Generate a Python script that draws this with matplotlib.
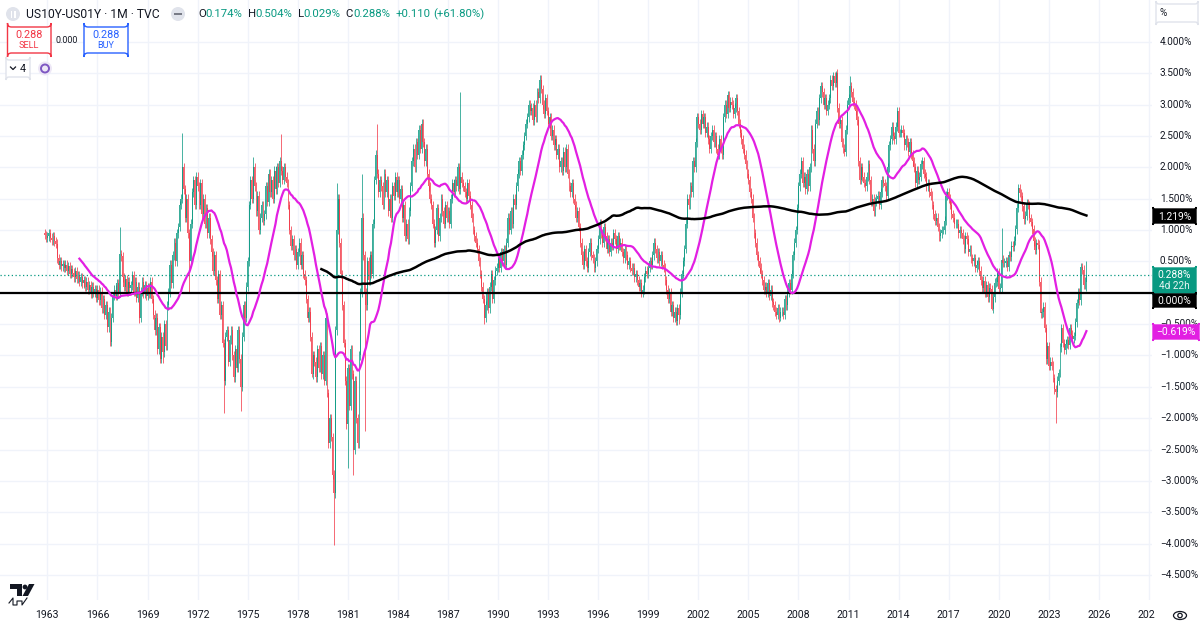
import matplotlib
matplotlib.use("Agg")
import numpy as np
import pandas as pd
import matplotlib.pyplot as plt
from matplotlib.patches import FancyBboxPatch, Rectangle, Circle, Ellipse, Polygon
from matplotlib.lines import Line2D
from matplotlib.transforms import Affine2D, blended_transform_factory

plt.rcParams['font.family'] = ['Roboto', 'DejaVu Sans']

# ---------------- data: monthly closes of US10Y-US01Y (%), from Nov 1962 ----------------
start_year, start_month = 1962, 11
first_open = 0.95

closes_1960s = [
    0.92, 0.88,
    0.90, 0.95, 0.88, 0.84, 0.90, 0.82, 0.78, 0.55, 0.45, 0.50, 0.42, 0.46,
    0.40, 0.45, 0.35, 0.42, 0.30, 0.38, 0.32, 0.25, 0.34, 0.22, 0.28, 0.18,
    0.25, 0.15, 0.20, 0.10, 0.18, 0.05, 0.12, -0.02, 0.10, 0.00, 0.06, -0.08,
    0.05, -0.12, 0.02, -0.25, -0.10, -0.35, -0.20, -0.55, -0.30, -0.78, -0.40, -0.05,
    0.05, -0.05, 0.15, 0.00, 0.62, 0.58, 0.25, 0.10, 0.22, 0.02, 0.18, 0.08,
    0.12, 0.28, 0.02, 0.18, -0.08, 0.10, -0.40, 0.02, 0.18, -0.02, 0.12, -0.05,
    0.08, -0.02, 0.18, -0.10, -0.35, -0.60, -0.40, -0.90, -0.55, -1.05, -0.70, -0.95,
]
closes_1970s = [
    -0.50, -0.85, -0.20, 0.00, 0.45, 0.15, 0.60, 0.80, 0.50, 0.95, 1.05, 1.40,
    1.50, 2.00, 1.65, 1.20, 1.50, 0.95, 0.50, 1.10, 1.60, 1.80, 1.40, 1.85,
    1.70, 1.40, 1.75, 1.25, 1.50, 1.10, 1.35, 0.95, 1.20, 0.85, 0.65, 0.35,
    0.60, 0.20, -0.10, 0.30, -0.35, -0.20, -0.80, -1.40, -0.70, -0.60, -1.10, -0.75,
    -0.60, -1.00, -1.35, -0.90, -1.20, -0.60, -1.05, -1.50, -0.70, -0.20, -0.40, 0.10,
    0.50, 1.40, 1.80, 1.50, 2.00, 1.70, 1.30, 1.55, 1.00, 1.20, 1.40, 1.15,
    1.25, 1.70, 1.45, 1.90, 1.60, 1.80, 1.50, 1.95, 1.65, 2.00, 1.75, 2.10,
    1.95, 1.80, 2.00, 1.85, 1.75, 1.40, 1.00, 0.75, 0.85, 0.60, 0.70, 0.45,
    0.65, 0.80, 0.45, 0.60, 0.30, 0.20, -0.10, -0.40, -0.30, -0.70, -1.30, -1.00,
    -1.10, -1.35, -0.90, -1.20, -0.85, -1.30, -1.00, -1.40, -0.40, -1.60, -2.40, -2.00,
]
closes_1980s = [
    -2.30, -2.90, -3.20, -0.60, 1.00, 1.50, 0.80, 0.30, -0.20, -0.80, -1.40, -2.10,
    -1.20, -1.80, -0.90, -1.30, -2.50, -1.40, -2.00, -2.40, -1.00, 0.00, 1.20, 0.60,
    0.00, -0.20, 0.50, 0.20, 0.60, 0.30, 1.10, 1.80, 2.20, 1.90, 1.60, 1.80,
    1.70, 1.40, 1.90, 1.60, 1.80, 1.30, 1.50, 1.20, 1.70, 1.55, 1.85, 1.60,
    1.80, 1.50, 1.65, 1.20, 1.40, 0.90, 1.10, 0.85, 1.30, 1.70, 2.10, 2.30,
    2.00, 2.40, 2.20, 2.60, 2.30, 2.70, 2.40, 2.10, 2.30, 1.90, 1.70, 1.50,
    1.40, 1.10, 0.80, 1.00, 1.35, 0.90, 1.20, 1.50, 1.30, 1.10, 1.40, 1.20,
    1.30, 1.10, 1.50, 1.75, 1.60, 1.80, 1.70, 2.00, 1.65, 1.85, 1.75, 1.70,
    1.60, 1.50, 1.75, 1.55, 1.40, 1.20, 1.00, 0.90, 0.80, 0.70, 0.50, 0.30,
    0.10, -0.10, -0.40, -0.20, 0.00, -0.25, 0.10, 0.30, -0.10, 0.20, 0.35, 0.40,
]
closes_1990s = [
    0.55, 0.40, 0.65, 0.50, 0.70, 0.45, 0.80, 1.20, 1.00, 1.30, 1.10, 1.50,
    1.40, 1.70, 1.90, 2.10, 1.95, 2.20, 2.35, 2.50, 2.70, 2.80, 3.00, 2.90,
    2.95, 2.75, 3.00, 2.80, 3.20, 3.10, 3.40, 3.25, 3.00, 2.85, 3.10, 2.90,
    2.70, 2.80, 2.50, 2.60, 2.35, 2.45, 2.20, 2.30, 2.00, 2.10, 1.95, 2.25,
    2.00, 2.30, 1.90, 1.70, 1.60, 1.75, 1.50, 1.40, 1.20, 1.30, 1.05, 0.80,
    0.60, 0.45, 0.70, 0.50, 0.40, 0.65, 0.80, 0.60, 0.55, 0.40, 0.50, 0.70,
    0.85, 1.10, 0.95, 0.80, 1.05, 0.90, 0.70, 0.85, 0.65, 0.80, 0.75, 0.95,
    0.85, 0.70, 0.90, 0.75, 0.80, 0.65, 0.55, 0.70, 0.60, 0.45, 0.50, 0.40,
    0.35, 0.40, 0.25, 0.30, 0.20, 0.10, 0.15, 0.00, 0.05, 0.25, 0.35, 0.30,
    0.40, 0.50, 0.45, 0.60, 0.80, 0.70, 0.55, 0.65, 0.50, 0.60, 0.45, 0.40,
]
closes_2000s = [
    0.20, 0.05, -0.10, 0.00, -0.30, -0.20, -0.40, -0.30, -0.45, -0.25, -0.35, 0.00,
    0.30, 0.50, 0.70, 1.10, 1.50, 1.40, 1.70, 1.60, 2.10, 2.00, 2.40, 2.80,
    2.70, 2.60, 2.85, 2.70, 2.80, 2.55, 2.65, 2.45, 2.30, 2.50, 2.60, 2.40,
    2.50, 2.30, 2.20, 2.45, 2.30, 2.20, 2.80, 3.00, 2.85, 3.15, 2.95, 3.05,
    3.00, 2.85, 2.95, 3.10, 2.90, 2.70, 2.55, 2.45, 2.30, 2.20, 2.05, 1.90,
    1.80, 1.60, 1.50, 1.20, 0.95, 0.80, 0.60, 0.50, 0.40, 0.30, 0.20, 0.05,
    0.10, 0.00, 0.15, -0.05, 0.05, -0.15, -0.20, -0.30, -0.35, -0.25, -0.40, -0.30,
    -0.30, -0.35, -0.10, -0.20, 0.00, 0.15, 0.05, 0.30, 0.60, 0.80, 1.00, 1.35,
    1.70, 1.90, 2.10, 1.75, 1.85, 1.65, 1.90, 1.70, 2.00, 2.60, 2.30, 2.10,
    2.70, 2.90, 2.75, 3.10, 3.30, 3.20, 3.00, 3.10, 2.90, 3.00, 3.10, 3.40,
]
closes_2010s = [
    3.30, 3.45, 3.35, 3.50, 2.95, 2.70, 2.75, 2.40, 2.30, 2.25, 2.60, 3.00,
    3.10, 3.30, 3.20, 3.05, 3.00, 2.90, 2.75, 2.10, 1.80, 2.00, 1.85, 1.75,
    1.70, 1.85, 2.05, 1.80, 1.45, 1.50, 1.30, 1.45, 1.50, 1.55, 1.40, 1.60,
    1.80, 1.75, 1.70, 1.55, 2.00, 2.35, 2.45, 2.65, 2.50, 2.45, 2.65, 2.90,
    2.55, 2.55, 2.60, 2.55, 2.35, 2.45, 2.40, 2.25, 2.40, 2.20, 2.10, 2.00,
    1.75, 1.95, 1.80, 1.85, 2.05, 2.10, 1.90, 1.85, 1.70, 1.75, 1.60, 1.55,
    1.40, 1.25, 1.15, 1.20, 1.05, 0.90, 0.95, 1.00, 1.00, 1.15, 1.55, 1.60,
    1.50, 1.40, 1.25, 1.20, 1.10, 1.10, 1.10, 0.95, 1.00, 0.95, 0.85, 0.70,
    0.90, 0.85, 0.65, 0.70, 0.55, 0.50, 0.55, 0.40, 0.45, 0.50, 0.35, 0.20,
    0.08, 0.19, 0.01, 0.12, -0.07, 0.08, 0.06, -0.26, -0.07, 0.16, 0.18, 0.33,
]
closes_2020s = [
    0.06, 0.08, 0.53, 0.48, 0.48, 0.50, 0.41, 0.60, 0.57, 0.75, 0.73, 0.83,
    1.01, 1.36, 1.67, 1.59, 1.54, 1.38, 1.17, 1.23, 1.43, 1.40, 1.19, 1.13,
    1.01, 0.82, 0.69, 0.79, 0.77, 0.18, -0.33, -0.31, -0.22, -0.56, -1.06, -0.85,
    -1.16, -1.10, -1.16, -1.36, -1.54, -1.59, -1.40, -1.28, -0.87, -0.56, -0.80, -0.91,
    -0.81, -0.76, -0.83, -0.56, -0.67, -0.73, -0.69, -0.47, -0.17, 0.01, -0.12, 0.41,
    0.37, 0.13, 0.174, 0.288,
]

# monthly extremes read from the longer wicks (year, month)
spike_dates = [(1966, 10), (1967, 5), (1968, 7), (1969, 12), (1971, 2), (1971, 7),
               (1973, 8), (1974, 8), (1975, 5), (1977, 1), (1978, 11), (1980, 3),
               (1980, 5), (1981, 1), (1981, 5), (1981, 11), (1982, 1), (1982, 10),
               (1987, 10), (1989, 3), (1992, 7), (2000, 11), (2006, 12), (2010, 4),
               (2011, 2), (2019, 8), (2020, 3), (2023, 6)]
spike_values = [-0.85, 1.05, -0.48, -1.12, 2.55, 0.00,
                -1.92, -1.88, 2.17, 2.53, -1.35, -4.02,
                1.75, -2.80, -2.90, 1.90, -2.20, 2.70,
                3.20, -0.49, 3.47, -0.49, -0.45, 3.53,
                3.45, -0.28, 1.03, -2.08]

last_open, last_high, last_low, last_close = 0.174, 0.504, 0.029, 0.288
year_ticks = list(range(1963, 2027, 3))
price_ticks = [4.0, 3.5, 3.0, 2.5, 2.0, 1.5, 1.0, 0.5, -0.5, -1.0, -1.5, -2.0,
               -2.5, -3.0, -3.5, -4.0, -4.5]
fast_len, slow_len = 26, 200

# ---------------- build candles ----------------
closes = np.array(closes_1960s + closes_1970s + closes_1980s + closes_1990s +
                  closes_2000s + closes_2010s + closes_2020s, dtype=float)
n = len(closes)
xs = start_year + (start_month - 1) / 12 + np.arange(n) / 12.0
opens = np.r_[first_open, closes[:-1]]
WICK = 0.07
highs = np.maximum(opens, closes) + WICK
lows = np.minimum(opens, closes) - WICK
for (yy, mm), val in zip(spike_dates, spike_values):
    i = (yy - start_year) * 12 + (mm - start_month)
    if 0 <= i < n:
        if val > max(opens[i], closes[i]):
            highs[i] = val
        elif val < min(opens[i], closes[i]):
            lows[i] = val
opens[-1], highs[-1], lows[-1], closes[-1] = last_open, last_high, last_low, last_close

s = pd.Series(closes)
ma_fast = s.rolling(fast_len).mean().values
ma_slow = s.rolling(slow_len).mean().values

# ---------------- figure ----------------
W, H = 1200, 627
fig = plt.figure(figsize=(W / 100, H / 100), dpi=100)
fig.patch.set_facecolor('white')
pix = Affine2D().scale(1, -1).translate(0, H)   # pixel coords, origin top-left

PLOT_R, PLOT_B = 1152, 600
ax = fig.add_axes([0, (H - PLOT_B) / H, PLOT_R / W, PLOT_B / H])
ax.set_xlim(1960.16, 2029.18)
ax.set_ylim(-4.90, 4.67)
for sp in ax.spines.values():
    sp.set_visible(False)
ax.set_xticks([]); ax.set_yticks([])

grid_c = '#f0f3fa'
for yr in year_ticks + [2029]:
    ax.axvline(yr, color=grid_c, lw=1, zorder=0)
for v in np.arange(-4.5, 4.01, 0.5):
    ax.axhline(v, color=grid_c, lw=1, zorder=0)

up_c, dn_c = '#089981', '#F23645'
cols = np.where(closes >= opens, up_c, dn_c)
ax.vlines(xs, lows, highs, colors=cols, lw=0.7, alpha=0.75, zorder=2)
ax.bar(xs, closes - opens, bottom=opens, width=0.055, color=cols, alpha=0.8,
       linewidth=0, zorder=2)

ax.axhline(last_close, color=up_c, lw=0.9, ls=(0, (1, 2)), zorder=3)
ax.axhline(0.0, color='black', lw=1.6, zorder=3)
mag = '#e21fe2'
ax.plot(xs, ma_fast, color=mag, lw=1.6, zorder=4)
ax.plot(xs, ma_slow, color='black', lw=1.8, zorder=4)

# ---------------- axes labels ----------------
txt_c = '#131722'
bt = blended_transform_factory(ax.transData, pix)
for yr in year_ticks:
    ax.text(yr, 615, str(yr), transform=bt, ha='center', va='center',
            fontsize=7.6, color=txt_c, clip_on=False)
fig.text(1138, 615, '202', transform=pix, ha='left', va='center',
         fontsize=7.6, color=txt_c)

rt = blended_transform_factory(pix, ax.transData)
for v in price_ticks:
    fig.text(1160, v, f'{v:.3f}%'.replace('-', '\u2212'), transform=rt, ha='left',
             va='center', fontsize=7.2, color=txt_c)


def rbox(x0, y0, x1, y1, fc, ec=None, r=2, lw=1.0, z=5):
    p = FancyBboxPatch((x0, y1), x1 - x0, -(y1 - y0),
                       boxstyle=f'round,pad=0,rounding_size={r}',
                       transform=pix, fc=fc, ec=ec if ec else fc, lw=lw, zorder=z)
    fig.add_artist(p)


def ptxt(x, y, s, **kw):
    kw.setdefault('va', 'center')
    kw.setdefault('color', txt_c)
    kw.setdefault('zorder', 6)
    return fig.text(x, y, s, transform=pix, **kw)


# value labels on price axis
rbox(1153, 209, 1196, 223, 'black')
ptxt(1174.5, 216.5, '1.219%', ha='center', fontsize=7.4, color='white')
rbox(1153, 268, 1196, 293, up_c)
ptxt(1174.5, 275, '0.288%', ha='center', fontsize=7.4, color='white')
ptxt(1174.5, 286, '4d 22h', ha='center', fontsize=7.2, color='#e6f5f2')
rbox(1153, 294, 1196, 307, 'black')
ptxt(1174.5, 300.5, '0.000%', ha='center', fontsize=7.4, color='white')
rbox(1153, 325, 1199, 339, mag)
ptxt(1176, 332, '\u22120.619%', ha='center', fontsize=7.4, color='white')

# % box top right
rbox(1156, 4, 1198, 22, 'white', '#e0e3eb', r=3)
ptxt(1160, 13.5, '%', ha='left', fontsize=7.2)

# ---------------- header ----------------
fig.add_artist(Circle((13, 14), 7, transform=pix, fc='#e0e3eb', ec='none'))
fig.add_artist(Rectangle((10.5, 10.5), 1.6, 7, transform=pix, fc='white', ec='none'))
fig.add_artist(Rectangle((14.0, 10.5), 1.6, 7, transform=pix, fc='white', ec='none'))
ptxt(26, 14, 'US10Y-US01Y \u00b7 1M \u00b7 TVC', ha='left', fontsize=8.7)
fig.add_artist(Circle((178, 14), 7, transform=pix, fc='#e0e3eb', ec='none'))
fig.add_artist(Rectangle((174, 12.8), 8, 2.4, transform=pix, fc='#787b86', ec='none'))

renderer = fig.canvas.get_renderer()
groups = [[('O', txt_c), ('0.174%', up_c)],
          [('H', txt_c), ('0.504%', up_c)],
          [('L', txt_c), ('0.029%', up_c)],
          [('C', txt_c), ('0.288%', up_c)],
          [('+0.110', up_c)],
          [('(+61.80%)', up_c)]]
gaps = [5, 5, 5, 5, 3, 0]
xcur = 198
for parts, gap in zip(groups, gaps):
    for s_, c_ in parts:
        t = ptxt(xcur, 14, s_, ha='left', fontsize=8.2, color=c_)
        xcur += t.get_window_extent(renderer=renderer).width
    xcur += gap

rbox(7.5, 27, 51, 53, 'white', dn_c, r=4)
ptxt(29, 34.5, '0.288', ha='center', fontsize=7.8, color=dn_c)
ptxt(29, 46, 'SELL', ha='center', fontsize=6.6, color=dn_c)
ptxt(67, 40.5, '0.000', ha='center', fontsize=6.4)
rbox(84, 27, 128, 53, 'white', '#2962FF', r=4)
ptxt(106, 34.5, '0.288', ha='center', fontsize=7.8, color='#2962FF')
ptxt(106, 46, 'BUY', ha='center', fontsize=6.6, color='#2962FF')

rbox(6, 60, 30, 77, 'white', '#e0e3eb', r=3)
fig.add_artist(Line2D([10.5, 13, 15.5], [67, 69.5, 67], transform=pix, color=txt_c,
                      lw=0.9, zorder=7))
ptxt(20, 68.5, '4', ha='left', fontsize=7.8)
fig.add_artist(Circle((45, 68.5), 7, transform=pix, fc='#ede7f6', ec='none'))
fig.add_artist(Circle((45, 68.5), 4, transform=pix, fc='none', ec='#7e57c2', lw=1.4))

# TradingView logo (bottom left)
fig.add_artist(Polygon([(10, 584), (22, 584), (22, 596), (17, 596), (17, 589), (10, 589)],
                       closed=True, transform=pix, fc='#131722', ec='none'))
fig.add_artist(Circle((25, 587), 2.4, transform=pix, fc='#131722', ec='none'))
fig.add_artist(Polygon([(29, 584), (34.5, 584), (28, 596), (22.5, 596)], closed=True,
                       transform=pix, fc='#131722', ec='none'))
fig.add_artist(Line2D([9, 13, 13, 17, 17, 22, 22, 27], [603, 598, 605, 605, 601, 601, 605, 598],
                      transform=pix, color='#131722', lw=0.8))

# eye icon bottom right
fig.add_artist(Ellipse((1180, 615.5), 13, 8, transform=pix, fc='none', ec='#131722', lw=0.9))
fig.add_artist(Circle((1180, 615.5), 2.2, transform=pix, fc='none', ec='#131722', lw=0.9))

fig.savefig('out.png', dpi=100, facecolor='white')
